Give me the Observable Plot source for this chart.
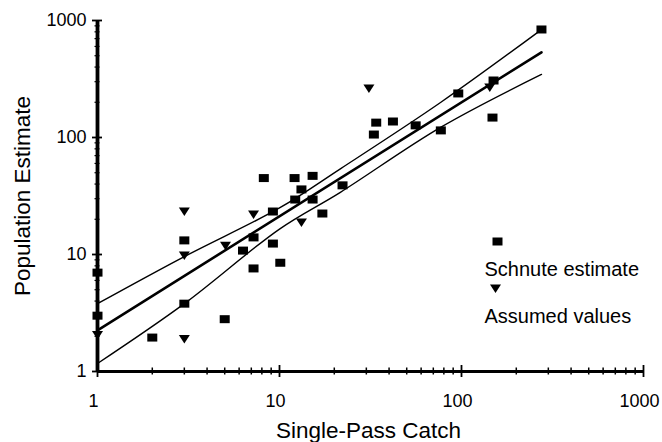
<!DOCTYPE html>
<html><head><meta charset="utf-8">
<script src="https://cdn.jsdelivr.net/npm/d3@7"></script>
<script src="https://cdn.jsdelivr.net/npm/@observablehq/plot@0.6"></script>
<style>body{margin:0;background:#fff}#chart{width:662px;height:442px}</style>
</head><body><div id="chart"></div>
<script>
// Schnute estimates (squares)
const schnuteCatch = [1, 1, 2, 3, 3, 5, 6.3, 7.2, 7.2, 8.2, 9.2, 9.2, 10.1, 12.1, 12.2, 13.2, 15.2, 15.2, 17.2, 22.2, 33, 34, 42, 56, 77, 96, 148, 150, 275];
const schnuteEst   = [7.0, 3.0, 1.95, 13.2, 3.8, 2.8, 10.8, 14, 7.6, 45, 23.3, 12.4, 8.5, 45, 29.5, 36, 47, 29.5, 22.4, 39, 106, 134, 137, 127, 115, 238, 148, 307, 838];
// Assumed values (triangles)
const assumedCatch = [1, 3, 3, 3, 5.05, 7.2, 13.2, 31, 143];
const assumedEst   = [2.05, 23.3, 9.8, 1.9, 11.9, 22, 18.8, 262, 268];
// Regression line and bands
const fitCatch = [1, 275];
const fitEst = [2.25, 535];
const bandCatch = [1, 3, 10, 21.6, 76.7, 275];
const bandUpper = [3.8, 9.6, 25, 54, 199, 836];
const bandLower = [1.17, 3.8, 16.5, 34, 122, 346];
// Ticks and text
const majorTicks = [1, 10, 100, 1000];
const minorMultipliers = [2, 3, 4, 5, 6, 7, 8, 9];
const xTitle = "Single-Pass Catch";
const yTitle = "Population Estimate";
const legendLabels = ["Schnute estimate", "Assumed values"];

const minorTicks = majorTicks.slice(0, 3).flatMap(d => minorMultipliers.map(k => k * d));
const schnute = schnuteCatch.map((x, i) => ({x, y: schnuteEst[i]}));
const assumed = assumedCatch.map((x, i) => ({x, y: assumedEst[i]}));
const fit = fitCatch.map((x, i) => ({x, y: fitEst[i]}));
const band = bandCatch.map((x, i) => ({x, upper: bandUpper[i], lower: bandLower[i]}));

const square = {draw(ctx) { ctx.rect(-5, -4, 10, 8); }};
const triDown = {draw(ctx) { ctx.moveTo(-5.5, -4); ctx.lineTo(5.5, -4); ctx.lineTo(0, 4.5); ctx.closePath(); }};
const fmt = d3.format("d");
const blank = () => "";

const chart = Plot.plot({
  width: 662, height: 442,
  marginLeft: 97, marginRight: 19, marginTop: 20, marginBottom: 71,
  style: {fontFamily: "'Liberation Sans', Arial, sans-serif", color: "black", background: "white"},
  x: {type: "log", domain: [1, 1000]},
  y: {type: "log", domain: [1, 1000]},
  marks: [
    Plot.line(band, {x: "x", y: "upper", stroke: "black", strokeWidth: 1.4, curve: "catmull-rom"}),
    Plot.line(band, {x: "x", y: "lower", stroke: "black", strokeWidth: 1.4, curve: "catmull-rom"}),
    Plot.line(fit, {x: "x", y: "y", stroke: "black", strokeWidth: 2.6}),
    Plot.dot(schnute, {x: "x", y: "y", symbol: square, fill: "black", stroke: null}),
    Plot.dot(assumed, {x: "x", y: "y", symbol: triDown, fill: "black", stroke: null}),
    Plot.ruleX([1], {stroke: "black", strokeWidth: 3.8}),
    Plot.ruleY([1], {stroke: "black", strokeWidth: 3.2}),
    Plot.axisX({ticks: majorTicks, tickSize: 0, tickPadding: 23, dx: -4, fontSize: 18, tickFormat: fmt, label: null}),
    Plot.axisX({ticks: majorTicks, tickSize: 6, tickFormat: blank, label: null, strokeWidth: 1.8}),
    Plot.axisX({ticks: majorTicks, tickSize: 6, dy: -6, tickFormat: blank, label: null, strokeWidth: 1.8}),
    Plot.axisX({ticks: minorTicks, tickSize: 7, dy: -3.5, tickFormat: blank, label: null, strokeWidth: 1.5}),
    Plot.axisY({ticks: majorTicks, tickSize: 5, tickPadding: 6, fontSize: 18, tickFormat: fmt, label: null, strokeWidth: 1.8}),
    Plot.axisY({ticks: majorTicks, tickSize: 5, dx: 5, tickFormat: blank, label: null, strokeWidth: 1.8}),
    Plot.axisY({ticks: minorTicks, tickSize: 5, dx: 2.5, tickFormat: blank, label: null, strokeWidth: 1.2}),
    Plot.text([xTitle], {x: null, y: null, text: d => d, frameAnchor: "bottom", lineAnchor: "middle", textAnchor: "middle", dx: -2, dy: 59, fontSize: 22.5}),
    Plot.text([yTitle], {x: null, y: null, text: d => d, frameAnchor: "left", lineAnchor: "middle", textAnchor: "middle", dx: -75, rotate: -90, fontSize: 22.5}),
    Plot.dot([legendLabels[0]], {x: null, y: null, frameAnchor: "top-left", dx: 400, dy: 221, symbol: square, fill: "black", stroke: null}),
    Plot.text([legendLabels[0]], {x: null, y: null, text: d => d, frameAnchor: "top-left", lineAnchor: "middle", textAnchor: "start", dx: 387, dy: 249, fontSize: 20}),
    Plot.dot([legendLabels[1]], {x: null, y: null, frameAnchor: "top-left", dx: 398, dy: 268, symbol: triDown, fill: "black", stroke: null}),
    Plot.text([legendLabels[1]], {x: null, y: null, text: d => d, frameAnchor: "top-left", lineAnchor: "middle", textAnchor: "start", dx: 387, dy: 296, fontSize: 20})
  ]
});
document.getElementById("chart").appendChild(chart);
</script>
</body></html>
